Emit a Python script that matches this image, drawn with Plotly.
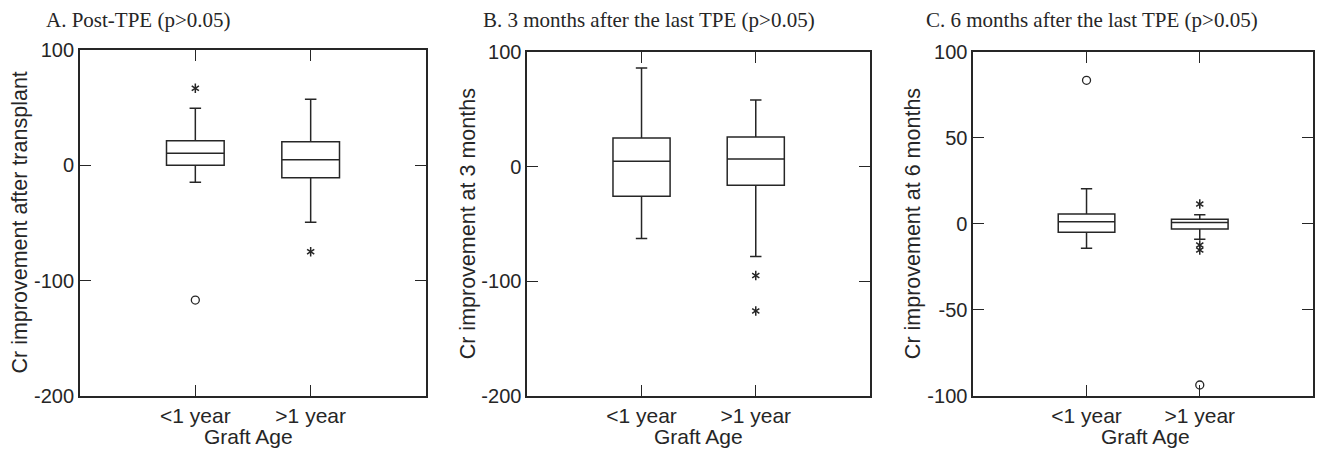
import plotly.graph_objects as go

groups = ["<1 year", ">1 year"]

titles = ["A. Post-TPE (p>0.05)",
          "B. 3 months after the last TPE (p>0.05)",
          "C. 6 months after the last TPE (p>0.05)"]
ytitles = ["Cr improvement after transplant",
           "Cr improvement at 3 months",
           "Cr improvement at 6 months"]
xtitle = "Graft Age"

# y tick values and labels (hyphen minus as in the original)
ab_tickvals = [-200, -100, 0, 100]
ab_ticktext = ["-200", "-100", "0", "100"]
c_tickvals = [-100, -50, 0, 50, 100]
c_ticktext = ["-100", "-50", "0", "50", "100"]

# Panel A
a_q1 = [0.0, -10.7]
a_med = [10.4, 4.9]
a_q3 = [21.3, 20.5]
a_lo = [-14.7, -49.4]
a_hi = [49.4, 57.2]
a_star_x = ["<1 year", ">1 year"]
a_star_y = [66.8, -74.9]
a_circ_x = ["<1 year"]
a_circ_y = [-116.8]

# Panel B
b_q1 = [-25.8, -16.2]
b_med = [4.8, 6.8]
b_q3 = [25.2, 26.0]
b_lo = [-62.7, -78.5]
b_hi = [86.3, 58.4]
b_star_x = [">1 year", ">1 year"]
b_star_y = [-95.0, -126.0]
b_circ_x = []
b_circ_y = []

# Panel C
c_q1 = [-4.9, -3.0]
c_med = [1.2, 0.8]
c_q3 = [5.7, 2.6]
c_lo = [-14.2, -9.0]
c_hi = [20.4, 5.3]
c_star_x = [">1 year", ">1 year", ">1 year"]
c_star_y = [11.5, -12.3, -15.2]
c_circ_x = ["<1 year", ">1 year"]
c_circ_y = [83.4, -93.6]

yranges = [[-200, 100], [-200, 100], [-100, 100]]
ytickvals = [ab_tickvals, ab_tickvals, c_tickvals]
yticktext = [ab_ticktext, ab_ticktext, c_ticktext]

W, H = 1320, 449


def px(v):
    return v / W


def py(v):
    return 1 - v / H


# plot-area page-pixel boxes (left, right, top, bottom)
boxes = [(80, 426, 50, 396), (527.3, 870, 52.3, 395.7), (973.3, 1313, 51.7, 396)]
title_x = [44.3, 480.7, 924]
ytitle_x = [19.5, 468.3, 913.3]
xtitle_x = [248.3, 698.3, 1145]

INK = "#262626"
SANS = "Liberation Sans, Arial, sans-serif"
YTICKFONT = dict(family=SANS, size=20, color=INK)
XTICKFONT = dict(family=SANS, size=21, color=INK)

panels = [
    (a_q1, a_med, a_q3, a_lo, a_hi, a_star_x, a_star_y, a_circ_x, a_circ_y),
    (b_q1, b_med, b_q3, b_lo, b_hi, b_star_x, b_star_y, b_circ_x, b_circ_y),
    (c_q1, c_med, c_q3, c_lo, c_hi, c_star_x, c_star_y, c_circ_x, c_circ_y),
]

fig = go.Figure()
layout = dict(width=W, height=H, margin=dict(l=0, r=0, t=0, b=0, pad=0),
              paper_bgcolor="white", plot_bgcolor="white", showlegend=False,
              template="none")
annotations = []

for i, (q1, med, q3, lo, hi, sx, sy, cx, cy) in enumerate(panels):
    n = "" if i == 0 else str(i + 1)
    xa, ya = "x" + n, "y" + n
    fig.add_trace(go.Box(x=groups, q1=q1, median=med, q3=q3,
                         lowerfence=lo, upperfence=hi, boxpoints=False,
                         fillcolor="white", line=dict(color=INK, width=1.5),
                         width=0.5, whiskerwidth=0.2, xaxis=xa, yaxis=ya,
                         hoverinfo="skip"))
    for sym in ["y-up-open", "y-down-open"]:
        fig.add_trace(go.Scatter(x=sx, y=sy, mode="markers", xaxis=xa, yaxis=ya,
                                 marker=dict(symbol=sym, size=6,
                                             line=dict(color=INK, width=1.5),
                                             color=INK),
                                 hoverinfo="skip"))
    if cx:
        fig.add_trace(go.Scatter(x=cx, y=cy, mode="markers", xaxis=xa, yaxis=ya,
                                 marker=dict(symbol="circle-open", size=8,
                                             line=dict(color=INK, width=1.3),
                                             color=INK),
                                 hoverinfo="skip"))
    l, r, t, b = boxes[i]
    layout["xaxis" + n] = dict(domain=[px(l), px(r)], anchor=ya, type="category",
                               categoryorder="array", categoryarray=groups,
                               range=[-1, 2], ticks="inside", ticklen=11,
                               tickwidth=1.3, tickcolor=INK, showline=True,
                               linecolor=INK, linewidth=1.8, mirror="ticks",
                               showgrid=False, zeroline=False, tickfont=XTICKFONT,
                               fixedrange=True, automargin=False)
    layout["yaxis" + n] = dict(domain=[py(b), py(t)], anchor=xa,
                               range=yranges[i], tickmode="array",
                               tickvals=ytickvals[i], ticktext=yticktext[i],
                               ticks="inside", ticklen=11, tickwidth=1.3,
                               tickcolor=INK, showline=True, linecolor=INK,
                               linewidth=1.8, mirror="ticks", showgrid=False,
                               zeroline=False, tickfont=YTICKFONT, fixedrange=True,
                               automargin=False)
    annotations.append(dict(text=titles[i], x=px(title_x[i]), y=py(20),
                            xref="paper", yref="paper", xanchor="left",
                            yanchor="middle", showarrow=False,
                            font=dict(family="Liberation Serif, Times New Roman, serif",
                                      size=21, color=INK)))
    annotations.append(dict(text=ytitles[i], x=px(ytitle_x[i]), y=py((t + b) / 2),
                            xref="paper", yref="paper", xanchor="center",
                            yanchor="middle", textangle=-90, showarrow=False,
                            font=dict(family=SANS, size=21.5, color=INK)))
    annotations.append(dict(text=xtitle, x=px(xtitle_x[i]), y=py(436),
                            xref="paper", yref="paper", xanchor="center",
                            yanchor="middle", showarrow=False,
                            font=dict(family=SANS, size=21, color=INK)))

layout["annotations"] = annotations
fig.update_layout(**layout)
# remove the browser's default 8px body margin so the figure fills the window
fig.write_html("out.html", config={"displayModeBar": False},
               post_script="document.documentElement.style.margin='0';"
                           "document.body.style.margin='0';"
                           "document.body.style.overflow='hidden';")
